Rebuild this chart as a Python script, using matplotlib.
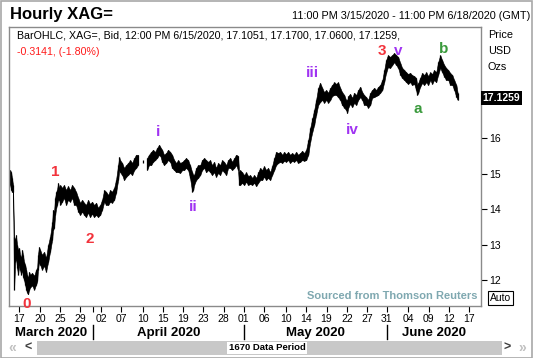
import numpy as np
import matplotlib.pyplot as plt
from matplotlib.patches import Rectangle

plt.rcParams['font.family'] = ['Liberation Sans', 'DejaVu Sans']

# hourly bars (position in the 1670 period), low / high
bars = [0, 4, 7, 11, 15, 19, 22, 26, 30, 34, 37, 41, 45, 48, 52, 56, 60, 63, 67, 71,
        75, 82, 90, 97, 101, 104, 108, 112, 119, 127, 134, 142, 149, 157, 160, 164, 168, 172, 175, 179,
        183, 187, 194, 201, 209, 216, 224, 231, 239, 246, 254, 261, 269, 276, 283, 291, 298, 306, 313, 321,
        328, 336, 343, 351, 358, 366, 373, 380, 388, 395, 403, 407, 410, 418, 425, 433, 440, 448, 455, 463,
        470, 477, 496, 511, 518, 526, 533, 541, 548, 556, 560, 567, 574, 582, 589, 597, 604, 612, 619, 627,
        634, 642, 649, 656, 664, 671, 679, 683, 686, 694, 701, 709, 716, 724, 731, 739, 746, 753, 761, 768,
        776, 783, 791, 798, 806, 813, 821, 828, 836, 843, 850, 854, 858, 865, 873, 880, 888, 895, 903, 910,
        918, 925, 933, 940, 947, 955, 962, 970, 977, 985, 992, 1000, 1007, 1015, 1022, 1029, 1037, 1044, 1052, 1059,
        1067, 1074, 1082, 1089, 1097, 1104, 1112, 1119, 1127, 1134, 1141, 1149, 1156, 1164, 1171, 1179, 1186, 1194, 1201, 1209,
        1216, 1223, 1231, 1238, 1246, 1253, 1257, 1261, 1268, 1276, 1283, 1291, 1298, 1306, 1313, 1320, 1328, 1335, 1343, 1350,
        1358, 1365, 1373, 1380, 1388, 1395, 1402, 1409, 1417, 1425, 1432, 1440, 1447, 1455, 1462, 1470, 1477, 1484, 1492, 1499,
        1507, 1514, 1518, 1522, 1529, 1537, 1544, 1552, 1559, 1567, 1574, 1581, 1589, 1596, 1604, 1611, 1619, 1626, 1634, 1641,
        1649, 1656, 1664, 1669]
highs = [15.10, 15.04, 14.88, 14.68, 13.22, 13.14, 13.28, 13.00, 12.86, 12.91, 12.72, 12.63, 12.86, 12.72, 12.52, 12.44, 12.30, 12.16, 12.07, 12.24,
         12.16, 12.21, 12.13, 12.30, 12.35, 12.72, 12.94, 12.86, 12.72, 12.80, 12.63, 13.00, 13.22, 13.64, 13.98, 13.93, 14.32, 14.49, 14.54, 14.74,
         14.60, 14.68, 14.60, 14.68, 14.54, 14.65, 14.54, 14.68, 14.60, 14.49, 14.32, 14.18, 14.26, 14.18, 14.12, 14.26, 14.15, 14.21, 14.12, 14.18,
         14.04, 14.12, 14.26, 14.54, 14.49, 14.40, 14.54, 14.49, 14.60, 14.82, 15.24, 15.47, 15.38, 15.30, 15.16, 15.24, 15.30, 15.38, 15.30, 15.44,
         15.53, 15.53, 15.38, 15.44, 15.53, 15.61, 15.67, 15.61, 15.72, 15.81, 15.75, 15.67, 15.53, 15.58, 15.67, 15.61, 15.53, 15.38, 15.30, 15.38,
         15.30, 15.33, 15.38, 15.44, 15.38, 15.24, 15.04, 14.96, 14.96, 15.16, 15.24, 15.24, 15.38, 15.44, 15.38, 15.33, 15.38, 15.24, 15.33, 15.16,
         15.30, 15.24, 15.38, 15.33, 15.24, 15.38, 15.44, 15.33, 15.44, 15.53, 15.50, 15.04, 15.10, 15.04, 14.96, 15.04, 14.93, 14.96, 14.88, 14.96,
         14.88, 15.04, 15.16, 15.10, 15.21, 15.10, 15.16, 15.04, 15.21, 15.44, 15.61, 15.58, 15.61, 15.53, 15.61, 15.55, 15.61, 15.53, 15.58, 15.53,
         15.61, 15.53, 15.58, 15.64, 15.58, 15.67, 15.95, 16.28, 16.56, 16.79, 17.07, 17.41, 17.55, 17.41, 17.29, 17.35, 17.27, 17.41, 17.49, 17.57,
         17.52, 17.57, 17.41, 17.29, 17.21, 17.07, 17.07, 17.18, 17.24, 17.13, 17.27, 17.21, 17.35, 17.44, 17.29, 17.21, 17.15, 17.07, 17.27, 17.35,
         17.41, 17.35, 17.44, 17.49, 17.63, 17.91, 18.19, 18.33, 18.28, 18.33, 18.39, 18.33, 18.28, 18.11, 17.97, 17.91, 17.85, 17.80, 17.83, 17.77,
         17.74, 17.69, 17.49, 17.55, 17.69, 17.83, 17.77, 17.85, 17.74, 17.85, 17.80, 17.91, 17.85, 18.13, 18.33, 18.19, 18.05, 17.97, 17.91, 17.83,
         17.77, 17.63, 17.49, 17.27]
lows = [14.68, 14.54, 14.49, 14.49, 11.74, 12.52, 12.63, 12.35, 12.16, 12.44, 12.30, 12.16, 12.30, 12.10, 12.02, 11.88, 11.74, 11.66, 11.61, 11.74,
        11.80, 11.86, 11.74, 11.88, 11.97, 12.30, 12.52, 12.44, 12.30, 12.41, 12.24, 12.52, 12.80, 13.14, 13.42, 13.47, 13.84, 14.04, 14.12, 14.26,
        14.26, 14.12, 14.21, 14.32, 14.12, 14.26, 14.21, 14.32, 14.12, 14.12, 13.93, 13.84, 13.93, 13.84, 13.78, 13.90, 13.78, 13.87, 13.78, 13.84,
        13.78, 13.84, 13.98, 14.21, 14.12, 14.12, 14.21, 14.18, 14.26, 14.46, 14.82, 15.10, 15.04, 14.96, 14.82, 14.91, 14.96, 15.02, 14.96, 15.10,
        15.16, 15.24, 15.30, 15.10, 15.24, 15.24, 15.33, 15.38, 15.44, 15.53, 15.50, 15.33, 15.24, 15.30, 15.38, 15.33, 15.16, 15.10, 15.04, 15.04,
        15.02, 15.10, 15.10, 15.16, 15.10, 14.88, 14.49, 14.54, 14.68, 14.82, 14.88, 14.96, 15.10, 15.16, 15.04, 15.10, 15.04, 14.96, 15.04, 14.91,
        15.02, 14.96, 15.10, 15.04, 14.96, 15.16, 15.16, 15.10, 15.16, 15.24, 15.10, 14.68, 14.68, 14.74, 14.68, 14.77, 14.68, 14.71, 14.68, 14.74,
        14.65, 14.74, 14.82, 14.82, 14.91, 14.82, 14.88, 14.82, 14.96, 15.10, 15.24, 15.30, 15.33, 15.30, 15.36, 15.33, 15.38, 15.30, 15.36, 15.33,
        15.38, 15.30, 15.33, 15.38, 15.36, 15.38, 15.53, 15.89, 16.17, 16.37, 16.65, 16.93, 17.01, 17.07, 16.99, 17.07, 16.99, 17.07, 17.18, 17.21,
        17.21, 17.15, 17.07, 16.93, 16.85, 16.79, 16.70, 16.85, 16.96, 16.87, 16.99, 16.93, 17.07, 17.15, 17.07, 16.93, 16.93, 16.85, 16.93, 17.13,
        17.15, 17.18, 17.21, 17.27, 17.35, 17.57, 17.83, 17.99, 17.97, 18.05, 18.13, 18.05, 17.97, 17.77, 17.69, 17.63, 17.57, 17.52, 17.57, 17.49,
        17.52, 17.35, 17.21, 17.27, 17.44, 17.55, 17.49, 17.57, 17.49, 17.63, 17.52, 17.63, 17.57, 17.77, 17.97, 17.85, 17.72, 17.63, 17.63, 17.49,
        17.49, 17.35, 17.15, 17.07]
last_price = 17.1259

tick_bars = [32, 111, 187, 261, 339, 415, 495, 571, 644, 719, 796, 872,
             948, 1028, 1104, 1180, 1256, 1332, 1404, 1484, 1561, 1637, 1713]
tick_labels = ['17', '20', '25', '29', '02', '07', '10', '15', '19', '23', '28', '01',
               '06', '10', '14', '19', '22', '27', '31', '04', '09', '12', '17']
month_names = ['March 2020', 'April 2020', 'May 2020', 'June 2020']
month_starts = [308, 872, 1404]
price_ticks = [12, 13, 14, 15, 16, 17]
# the 17 label sits under the last price flag
price_labels = ['12', '13', '14', '15', '16', '']

# Elliott wave counts written on the chart
wave_labels = ['0', '1', '2', 'i', 'ii', 'iii', 'iv', '3', 'v', 'a', 'b']
wave_bars = [60, 168, 298, 552, 682, 1126, 1275, 1387, 1447, 1521, 1618]
wave_prices = [11.35, 15.04, 13.17, 16.17, 14.07, 17.83, 16.23, 18.45, 18.45, 16.82, 18.50]

W, H = 533, 358
x_lo, x_hi = -4, 1756

fig = plt.figure(figsize=(W / 100, H / 100), dpi=100)
fig.patch.set_facecolor('white')


def fx(x):
    return x / W


def fy(y):
    return 1 - y / H


ax = fig.add_axes([fx(9), fy(306), (481 - 9) / W, (306 - 27) / H])

# price bars, broken where the feed has a gap
b = np.array(bars)
lo = np.array(lows)
hi = np.array(highs)
cuts = np.where(np.diff(b) > 12)[0] + 1
for sb, sl, sh in zip(np.split(b, cuts), np.split(lo, cuts), np.split(hi, cuts)):
    if len(sb) > 1:
        ax.fill_between(sb, sl, sh, color='black', lw=0.4)
ax.vlines(b, lo, hi, color='black', lw=0.9)

ax.set_xlim(x_lo, x_hi)
ax.set_ylim(11.28, 19.12)

for s in ax.spines.values():
    s.set_color('#8a8a8a')
    s.set_linewidth(1)

ax.yaxis.tick_right()
ax.set_yticks(price_ticks, price_labels)
ax.tick_params(axis='y', direction='out', length=4, width=0.8, labelsize=7.5, pad=2, colors='black')
ax.set_xticks(tick_bars, tick_labels)
ax.set_xticks(month_starts, minor=True)
ax.tick_params(axis='x', which='both', direction='out', length=4, width=0.8, labelsize=7.5, pad=2, colors='black')

# month row
tr = ax.get_xaxis_transform()
edges = [x_lo] + month_starts + [x_hi]
for i, name in enumerate(month_names):
    ax.text((edges[i] + edges[i + 1]) / 2, -0.096, name, transform=tr, ha='center', va='center',
            fontsize=9.5, fontweight='bold', clip_on=False)
for m in month_starts:
    ax.plot([m, m], [-0.068, -0.12], transform=tr, color='black', lw=1, clip_on=False)

# wave labels
for lab, wb, wp in zip(wave_labels, wave_bars, wave_prices):
    if lab.isdigit():
        col = '#f2333c'
    elif lab in ('a', 'b'):
        col = '#3a9a3c'
    else:
        col = '#a033f2'
    ax.text(wb, wp, lab, color=col, fontsize=11, fontweight='bold', ha='center', va='center', clip_on=False)

# last price flag
ax.text(1.003, last_price, f'{last_price:.4f}', transform=ax.get_yaxis_transform(), color='white',
        fontsize=7.5, fontweight='bold', ha='left', va='center', clip_on=False,
        bbox=dict(boxstyle='square,pad=0.18', fc='black', ec='none'))

ax.text(0.993, 0.018, 'Sourced from Thomson Reuters', transform=ax.transAxes, ha='right', va='bottom',
        color='#7fa8b0', fontsize=8, fontweight='bold')

# header
fig.text(fx(10), fy(14), 'Hourly XAG=', fontsize=12, fontweight='bold', ha='left', va='center')
fig.text(fx(530), fy(16), '11:00 PM 3/15/2020 - 11:00 PM 6/18/2020 (GMT)', fontsize=7.8, ha='right', va='center')
fig.text(fx(17), fy(36), 'BarOHLC, XAG=, Bid, 12:00 PM 6/15/2020, 17.1051, 17.1700, 17.0600, 17.1259,',
         fontsize=7.7, ha='left', va='center')
fig.text(fx(17), fy(52), '-0.3141, (-1.80%)', fontsize=7.7, color='#ff1a1a', ha='left', va='center')
for y, t in zip([35, 51, 67], ['Price', 'USD', 'Ozs']):
    fig.text(fx(488), fy(y), t, fontsize=7.8, ha='left', va='center')

fig.text(fx(490), fy(298), 'Auto', fontsize=7.5, ha='left', va='center',
         bbox=dict(boxstyle='square,pad=0.15', fc='white', ec='black', lw=0.8))

# scroll bar
fig.patches.append(Rectangle((fx(37), fy(355)), (502 - 37) / W, 14 / H, transform=fig.transFigure,
                             fc='#c8c8c8', ec='none'))
fig.text(fx(267), fy(348), '1670 Data Period', fontsize=6.8, fontweight='bold', ha='center', va='center',
         bbox=dict(boxstyle='square,pad=0.12', fc='white', ec='none'))
fig.text(fx(12), fy(348), '\u00ab', fontsize=10, color='#c0c0c0', ha='center', va='center', fontweight='bold')
fig.text(fx(28), fy(348), '<', fontsize=9, color='#404040', ha='center', va='center', fontweight='bold')
fig.text(fx(507), fy(348), '>', fontsize=9, color='#404040', ha='center', va='center', fontweight='bold')
fig.text(fx(522), fy(348), '\u00bb', fontsize=10, color='#c0c0c0', ha='center', va='center', fontweight='bold')

fig.patches.append(Rectangle((0.001, 0.001), 0.997, 0.996, transform=fig.transFigure,
                             fc='none', ec='#a8a8a8', lw=1.2))

fig.savefig('out.png', dpi=100)
